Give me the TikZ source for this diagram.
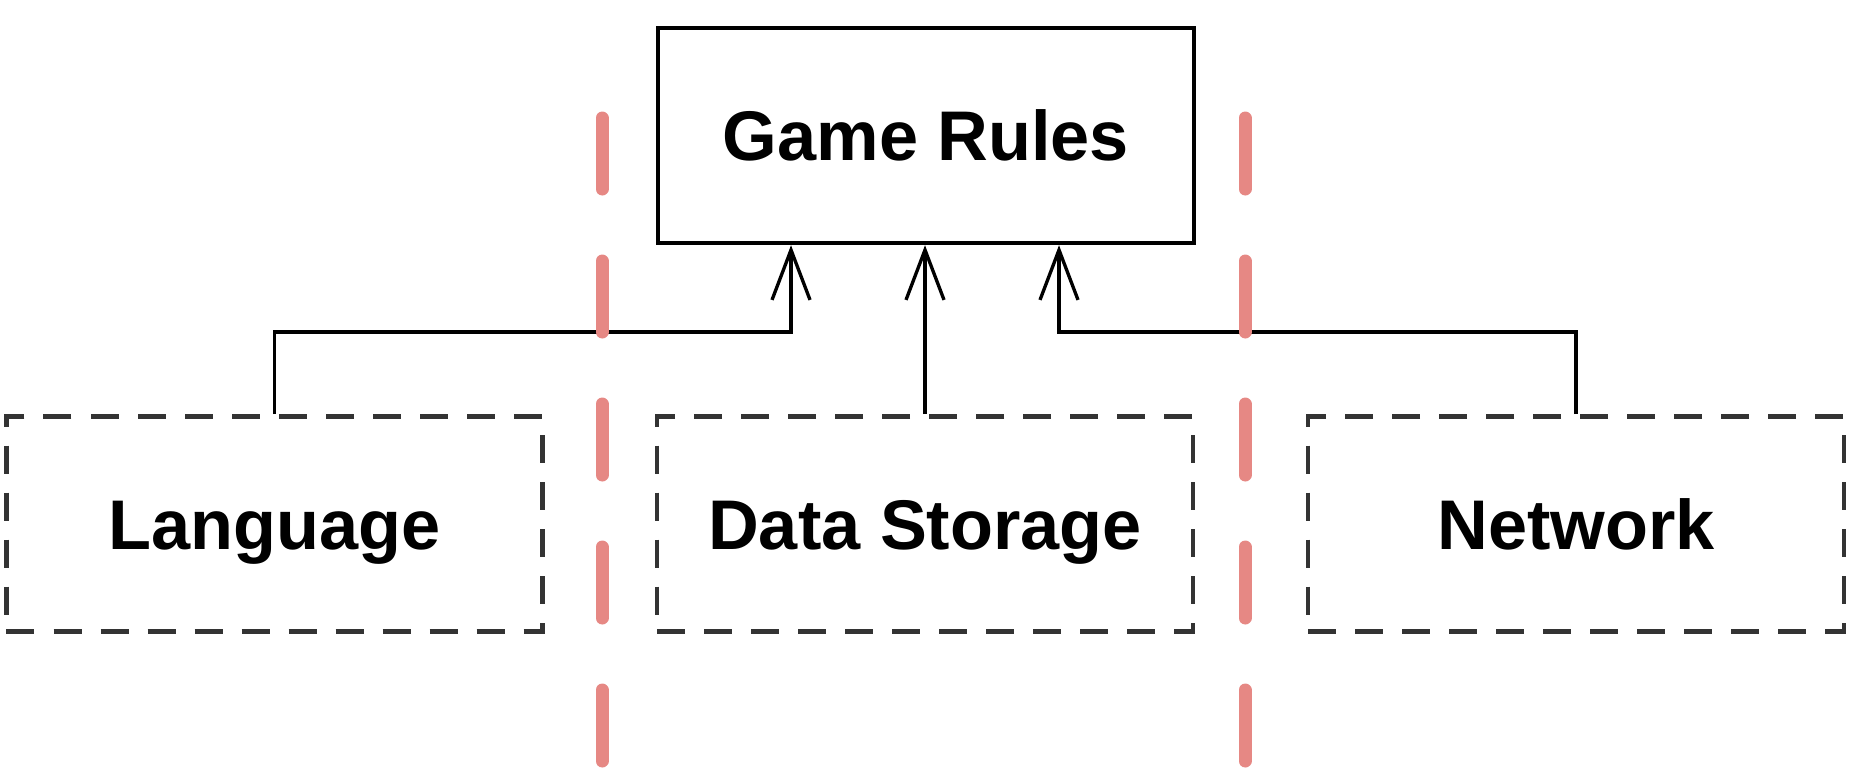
\documentclass[tikz,border=0pt]{standalone}
\usepackage{fontspec}
\setmainfont{Liberation Sans}
\usepackage{xcolor}
\usepackage{tikz}
\usetikzlibrary{arrows.meta, calc}
\definecolor{seamred}{RGB}{230,136,132}

\begin{document}
\begin{tikzpicture}[
	box/.style={draw, line width=1.25pt, minimum width=5.36cm, minimum height=2.15cm, inner sep=0pt, text height=14.3pt, text depth=0pt, font=\fontsize{20}{24}\selectfont\bfseries},
	plugin/.style={box, line width=1.35pt, draw=black!80, dash pattern=on 0.28cm off 0.19cm},
	dep/.style={line width=0.95pt, -{Straight Barb[length=5mm,width=3.8mm]}},
	seam/.style={seamred, line width=0.13cm, line cap=round, dash pattern=on 0.71cm off 0.72cm}]
	\useasboundingbox (0,0) rectangle (18.6,7.78);
	\node[box] (rules) at (9.26,6.425) {Game Rules};
	\node[plugin] (lang) at (2.745,2.54) {Language};
	\node[plugin] (store) at (9.25,2.54) {Data Storage};
	\node[plugin] (net) at (15.76,2.54) {Network};
	\coordinate (lj) at (7.91,4.46);
	\coordinate (nj) at (10.59,4.46);
	\draw[dep] (lang.north) |- (lj) -- (lj |- rules.south);
	\draw[dep] (store.north) -- (store.north |- rules.south);
	\draw[dep] (net.north) |- (nj) -- (nj |- rules.south);
	% boundaries between the parts
	\foreach \x in {6.02,12.45}
		\draw[seam] (\x,6.6) -- (\x,0.095);
\end{tikzpicture}
\end{document}
